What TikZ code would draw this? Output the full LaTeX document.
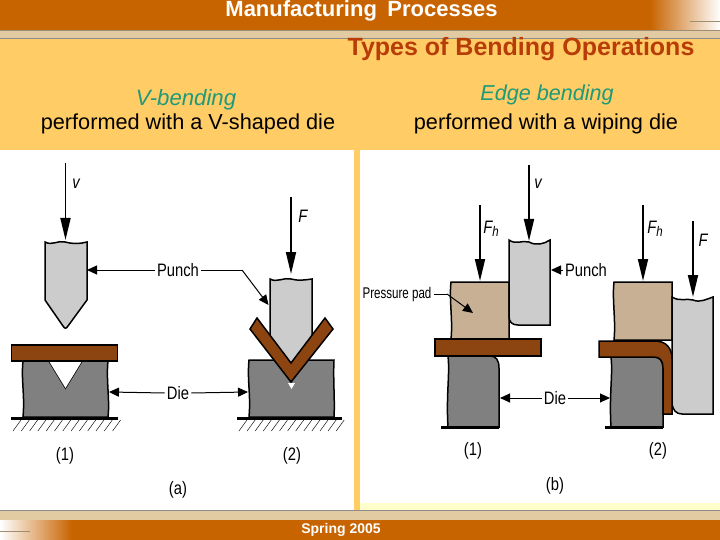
\documentclass[tikz,border=0pt]{standalone}
\usepackage{fontspec}
\setmainfont{Liberation Sans}
\newfontfamily\lab[FakeStretch=0.82]{Liberation Sans}
\usetikzlibrary{arrows.meta,patterns}
\definecolor{hdr}{HTML}{C86400}
\definecolor{gold}{HTML}{FFCC66}
\definecolor{palebar}{HTML}{E2CBA3}
\definecolor{pale}{HTML}{FFFFCC}
\definecolor{ttl}{HTML}{B83C08}
\definecolor{teal}{HTML}{1F9A78}
\definecolor{punchc}{HTML}{CCCCCC}
\definecolor{diec}{HTML}{808080}
\definecolor{padc}{HTML}{C8B094}
\definecolor{sheetc}{HTML}{8C4410}
\tikzset{
  x=1pt,y=-1pt,
  part/.style={draw=black,line width=1.5pt,line join=miter},
  punch/.style={part,fill=punchc},
  diepart/.style={part,fill=diec},
  pad/.style={part,fill=padc},
  sheet/.style={part,fill=sheetc},
  base/.style={line width=2.2pt},
  force/.style={line width=1.8pt,-{Triangle[length=22pt,width=10pt]}},
  lead/.style={line width=1pt,-{Triangle[length=10pt,width=9pt]}},
  leadthin/.style={line width=1pt},
  hatchline/.style={line width=0.45pt},
  lbl/.style={font=\lab\fontsize{18}{18}\selectfont,inner sep=0pt},
  lblsmall/.style={font=\lab\fontsize{15.5}{16}\selectfont,inner sep=0pt},
  sym/.style={font=\lab\itshape\fontsize{18}{18}\selectfont,inner sep=0pt},
}
\begin{document}
\begin{tikzpicture}
\useasboundingbox (0,0) rectangle (720,540);
% background
\fill[gold] (0,0) rectangle (720,540);
\fill[pale] (360,150) rectangle (720,512);
\fill[white] (0,150) rectangle (354,511);
\fill[white] (360,150) rectangle (720,503);
% header and footer
\fill[hdr] (0,0) rectangle (720,30);
\fill[palebar] (0,30) rectangle (720,39);
\fill[black!45] (0,38.5) rectangle (720,39.5);
\fill[palebar!70!black] (0,30) rectangle (720,31);
\shade[left color=hdr,right color=white] (650,0) rectangle (720,30);
\fill[palebar!70!black] (690,21.5) rectangle (720,22.5);
\fill[palebar] (0,511) rectangle (720,520);
\fill[black!40] (0,519.5) rectangle (720,520);
\fill[black!45] (0,510) rectangle (720,511);
\fill[hdr] (0,520) rectangle (720,540);
\shade[left color=white,right color=hdr] (0,520) rectangle (72,540);
\fill[palebar!70!black] (0,531) rectangle (30,532);
% texts
\node[inner sep=0pt,text=white] (hdrt) at (361.5,11) {\fontsize{22}{22}\selectfont\bfseries Manufacturing\hspace{0.2em} Processes};
\node[inner sep=0pt,text=ttl] (ttlt) at (521,49) {\fontsize{25}{25}\selectfont\bfseries Types of Bending Operations};
\node[inner sep=0pt,text=teal] (vb) at (186,100) {\fontsize{22.2}{22}\selectfont\itshape V-bending};
\node[inner sep=0pt] (vd) at (188,124) {\fontsize{21.7}{22}\selectfont performed with a V-shaped die};
\node[inner sep=0pt,text=teal] (eb) at (547,95) {\fontsize{21.6}{22}\selectfont\itshape Edge bending};
\node[inner sep=0pt] (ed) at (546,124) {\fontsize{21.7}{22}\selectfont performed with a wiping die};
\node[inner sep=0pt,text=white] (sp) at (341,530) {\fontsize{14}{14}\selectfont\bfseries Spring 2005};

% ---------- (a)(1)
\draw[base] (11,418.5) coordinate (ba1l) -- (118,418.5) coordinate (ba1r);
\foreach \i in {0,...,12} \draw[hatchline] ({13+8.3*\i},431) -- ({21+8.3*\i},420);
\draw[diepart] (23,361) .. controls (21,380) and (25,395) .. (23,417) -- (108,417) .. controls (110,400) and (106,380) .. (108,361) -- (82,361) -- (65.5,388) -- (49,361) -- cycle;
\fill[white] (49,361) -- (65.5,388) -- (82,361) -- cycle;
\draw[sheet] (11.5,345) rectangle (117.5,361);
\draw[punch] (45,242) .. controls (52,246) and (58,240) .. (65,242) .. controls (72,244) and (80,244) .. (87,242) -- (87,300) coordinate (pa1) -- (68,326) .. controls (66,329) and (65,329) .. (63,326) -- (45,300) -- cycle;
\coordinate (pa1t) at (87,270);
\coordinate (da1t) at (109,392);
% ---------- (a)(2)
\draw[base] (237,418.5) -- (342,418.5);
\foreach \i in {0,...,12} \draw[hatchline] ({239+8.1*\i},431) -- ({247+8.1*\i},420);
\draw[diepart] (249,360) .. controls (247,380) and (251,395) .. (249,417) -- (334,417) .. controls (335,400) and (333,380) .. (334,360) -- cycle;
\fill[white] (288,383) -- (291.5,389) -- (295,383) -- cycle;
\draw[punch] (270,279) .. controls (277,283) and (284,277) .. (291,279) .. controls (298,281) and (305,280) .. (312,279) -- (312,345) -- (291,365) -- (270,345) -- cycle;
\draw[sheet] (257,318) -- (250,329) -- (291,382) -- (333,329) -- (325,318) -- (291,363) -- cycle;
\coordinate (pa2t) at (268.5,305);
\coordinate (da2t) at (248,392);
% forces a
\coordinate (va0) at (65.5,163); \coordinate (va1) at (65.5,240);
\coordinate (fa0) at (291,197); \coordinate (fa1) at (291,274);
\draw[force] (va0) -- (va1);
\draw[force] (fa0) -- (fa1);
\node[sym] (vlab) at (76,184) {v};
\node[sym] (flab) at (303,216) {F};
\node[lbl] (pa) at (178,270) {Punch};
\node[lbl] (da) at (178,393) {Die};
\coordinate (bend) at (242,270);
\draw[lead] ([xshift=-2pt]pa.west) -- (pa1t);
\draw[leadthin] ([xshift=2pt]pa.east) -- (bend);
\draw[lead] (bend) -- (pa2t);
\draw[lead] ([xshift=-2pt]da.west) -- (da1t);
\draw[lead] ([xshift=2pt]da.east) -- (da2t);
\node[lbl] (a1) at (65,456) {(1)};
\node[lbl] (a2) at (292,456) {(2)};
\node[lbl] (acap) at (178,490) {(a)};

% ---------- (b)(1)
\draw[pad] (451,282) .. controls (449,300) and (453,320) .. (451,339) -- (509,339) -- (509,282) -- cycle;
\draw[punch] (509,240) .. controls (516,245) and (522,240) .. (529,242) .. controls (536,246) and (544,244) .. (550,240) -- (550,325) -- (518,325) .. controls (512,325) and (509,322) .. (509,316) -- cycle;
\draw[diepart] (448,356) .. controls (450,375) and (446,395) .. (448,427) -- (499,427) -- (499,368) .. controls (499,360) and (496,356) .. (490,356) -- cycle;
\draw[sheet] (435,339) rectangle (541,356);
\draw[base] (441,427.5) -- (499,427.5);
% ---------- (b)(2)
\draw[pad] (614,282) .. controls (612,300) and (616,320) .. (614,340) -- (672,340) -- (672,282) -- cycle;
\draw[punch] (672,297) .. controls (680,302) and (686,298) .. (693,300) .. controls (700,303) and (707,299) .. (713,297) -- (713,414) -- (682,414) .. controls (676,414) and (673,410) .. (672,404) -- cycle;
\draw[diepart] (611,357) .. controls (613,375) and (609,395) .. (611,427) -- (663,427) -- (663,368) .. controls (663,361) and (660,357) .. (654,357) -- cycle;
\draw[sheet] (599,341) -- (655,341) .. controls (666,341) and (672,348) .. (672,359) -- (672,414) -- (663,414) -- (663,368) .. controls (663,361) and (660,357) .. (654,357) -- (599,357) -- cycle;
\draw[base] (605,427.5) -- (663,427.5);
% forces b
\coordinate (vb0) at (529,165); \coordinate (vb1) at (529,241);
\coordinate (fh0) at (480,205); \coordinate (fh1) at (480,281);
\coordinate (fg0) at (643,205); \coordinate (fg1) at (643,281);
\coordinate (fb0) at (693,221); \coordinate (fb1) at (693,297);
\draw[force] (vb0) -- (vb1);
\draw[force] (fh0) -- (fh1);
\draw[force] (fg0) -- (fg1);
\draw[force] (fb0) -- (fb1);
\node[sym] (vblab) at (538,184) {v};
\node[sym] (fh1lab) at (491,229) {F\raisebox{-0.3ex}{\fontsize{14}{14}\selectfont h}};
\node[sym] (fh2lab) at (655,229) {F\raisebox{-0.3ex}{\fontsize{14}{14}\selectfont h}};
\node[sym] (fblab) at (703,240) {F};
\node[lbl] (pb) at (586,270) {Punch};
\node[lbl] (db) at (555,398) {Die};
\node[lblsmall,xscale=0.91] (pp) at (397,294) {Pressure pad};
\coordinate (pb1t) at (551,270);
\coordinate (db1t) at (500,398);
\coordinate (db2t) at (610,398);
\coordinate (ppb) at (447,294);
\coordinate (ppt) at (473,313);
\draw[lead] ([xshift=-2pt]pb.west) -- (pb1t);
\draw[lead] ([xshift=-2pt]db.west) -- (db1t);
\draw[lead] ([xshift=2pt]db.east) -- (db2t);
\draw[leadthin] ([xshift=2pt]pp.east) -- (ppb);
\draw[lead] (ppb) -- (ppt);
\node[lbl] (b1) at (473,451) {(1)};
\node[lbl] (b2) at (658,451) {(2)};
\node[lbl] (bcap) at (555,486) {(b)};
\end{tikzpicture}
\end{document}
